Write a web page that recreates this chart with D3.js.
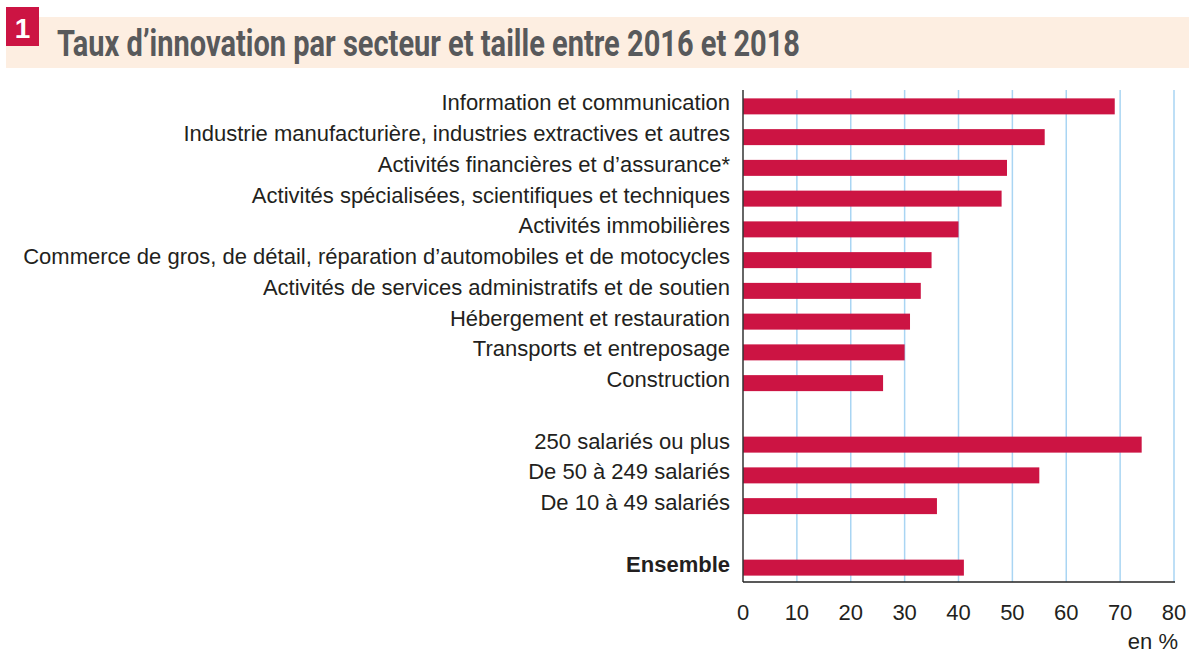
<!DOCTYPE html>
<html>
<head>
<meta charset="utf-8">
<script src="https://cdn.jsdelivr.net/npm/d3@7"></script>
<style>
  body { margin: 0; background: #fff; }
  svg text { font-family: "Liberation Sans", Arial, sans-serif; }
  svg text.title { font-family: "Liberation Sans Narrow", "Roboto", "Liberation Sans", sans-serif; }
</style>
</head>
<body>
<div id="chart"></div>
<script>
// categories, blank slots keep the gaps between groups
const categories = [
  'Information et communication',
  'Industrie manufacturière, industries extractives et autres',
  'Activités financières et d’assurance*',
  'Activités spécialisées, scientifiques et techniques',
  'Activités immobilières',
  'Commerce de gros, de détail, réparation d’automobiles et de motocycles',
  'Activités de services administratifs et de soutien',
  'Hébergement et restauration',
  'Transports et entreposage',
  'Construction',
  '',
  '250 salariés ou plus',
  'De 50 à 249 salariés',
  'De 10 à 49 salariés',
  ' ',
  'Ensemble'
];
const values = [69, 56, 49, 48, 40, 35, 33, 31, 30, 26, null, 74, 55, 36, null, 41];
const xTicks = [0, 10, 20, 30, 40, 50, 60, 70, 80];
const title = 'Taux d’innovation par secteur et taille entre 2016 et 2018';

const width = 1189, height = 654;
const svg = d3.select('#chart').append('svg')
  .attr('width', width)
  .attr('height', height);

// title band
svg.append('rect')
  .attr('x', 6).attr('y', 17)
  .attr('width', width - 6).attr('height', 51)
  .attr('fill', '#fdeee1');
svg.append('rect')
  .attr('x', 6).attr('y', 7)
  .attr('width', 33).attr('height', 39)
  .attr('fill', '#cc1443');
svg.append('text')
  .attr('x', 22.5).attr('y', 38)
  .attr('text-anchor', 'middle')
  .attr('fill', '#fff')
  .style('font-weight', 'bold')
  .style('font-size', '28px')
  .text('1');
svg.append('text')
  .attr('class', 'title')
  .attr('x', 57).attr('y', 56)
  .attr('fill', '#58595b')
  .attr('textLength', 743)
  .attr('lengthAdjust', 'spacingAndGlyphs')
  .style('font-weight', 'bold')
  .style('font-size', '36px')
  .text(title);

const x0 = 743, x1 = 1174;
const x = d3.scaleLinear().domain([0, 80]).range([x0, x1]);
const y = d3.scaleBand()
  .domain(categories)
  .range([91, 583])
  .paddingInner(0.48)
  .paddingOuter(0.24);

const plotTop = 90, plotBottom = 582;

// gridlines
svg.append('g')
  .selectAll('line')
  .data(xTicks.filter(d => d > 0))
  .enter().append('line')
  .attr('x1', d => x(d)).attr('x2', d => x(d))
  .attr('y1', plotTop).attr('y2', plotBottom)
  .attr('stroke', '#a9d5f3')
  .attr('stroke-width', 1.5);

// bars
svg.append('g')
  .selectAll('rect')
  .data(categories.map((c, i) => ({ c, v: values[i] })).filter(d => d.v != null))
  .enter().append('rect')
  .attr('x', x(0))
  .attr('y', d => y(d.c))
  .attr('width', d => x(d.v) - x(0))
  .attr('height', y.bandwidth())
  .attr('fill', '#cc1443');

// category labels
svg.append('g')
  .selectAll('text')
  .data(categories.filter(c => c.trim() !== ''))
  .enter().append('text')
  .attr('x', 730)
  .attr('y', d => y(d) + y.bandwidth() / 2 + 4)
  .attr('text-anchor', 'end')
  .attr('fill', '#231f20')
  .style('font-size', '22px')
  .style('font-weight', d => d === 'Ensemble' ? 'bold' : 'normal')
  .text(d => d);

// axes lines
svg.append('line')
  .attr('x1', x0).attr('x2', x0)
  .attr('y1', plotTop).attr('y2', plotBottom)
  .attr('stroke', '#333').attr('stroke-width', 1.5);
svg.append('line')
  .attr('x1', x0).attr('x2', x1 + 1)
  .attr('y1', plotBottom).attr('y2', plotBottom)
  .attr('stroke', '#222').attr('stroke-width', 1.5);

// tick labels
svg.append('g')
  .selectAll('text')
  .data(xTicks)
  .enter().append('text')
  .attr('x', d => x(d))
  .attr('y', 620)
  .attr('text-anchor', 'middle')
  .attr('fill', '#231f20')
  .style('font-size', '22px')
  .text(d => d);

svg.append('text')
  .attr('x', 1178).attr('y', 649)
  .attr('text-anchor', 'end')
  .attr('fill', '#231f20')
  .style('font-size', '22px')
  .text('en %');
</script>
</body>
</html>
